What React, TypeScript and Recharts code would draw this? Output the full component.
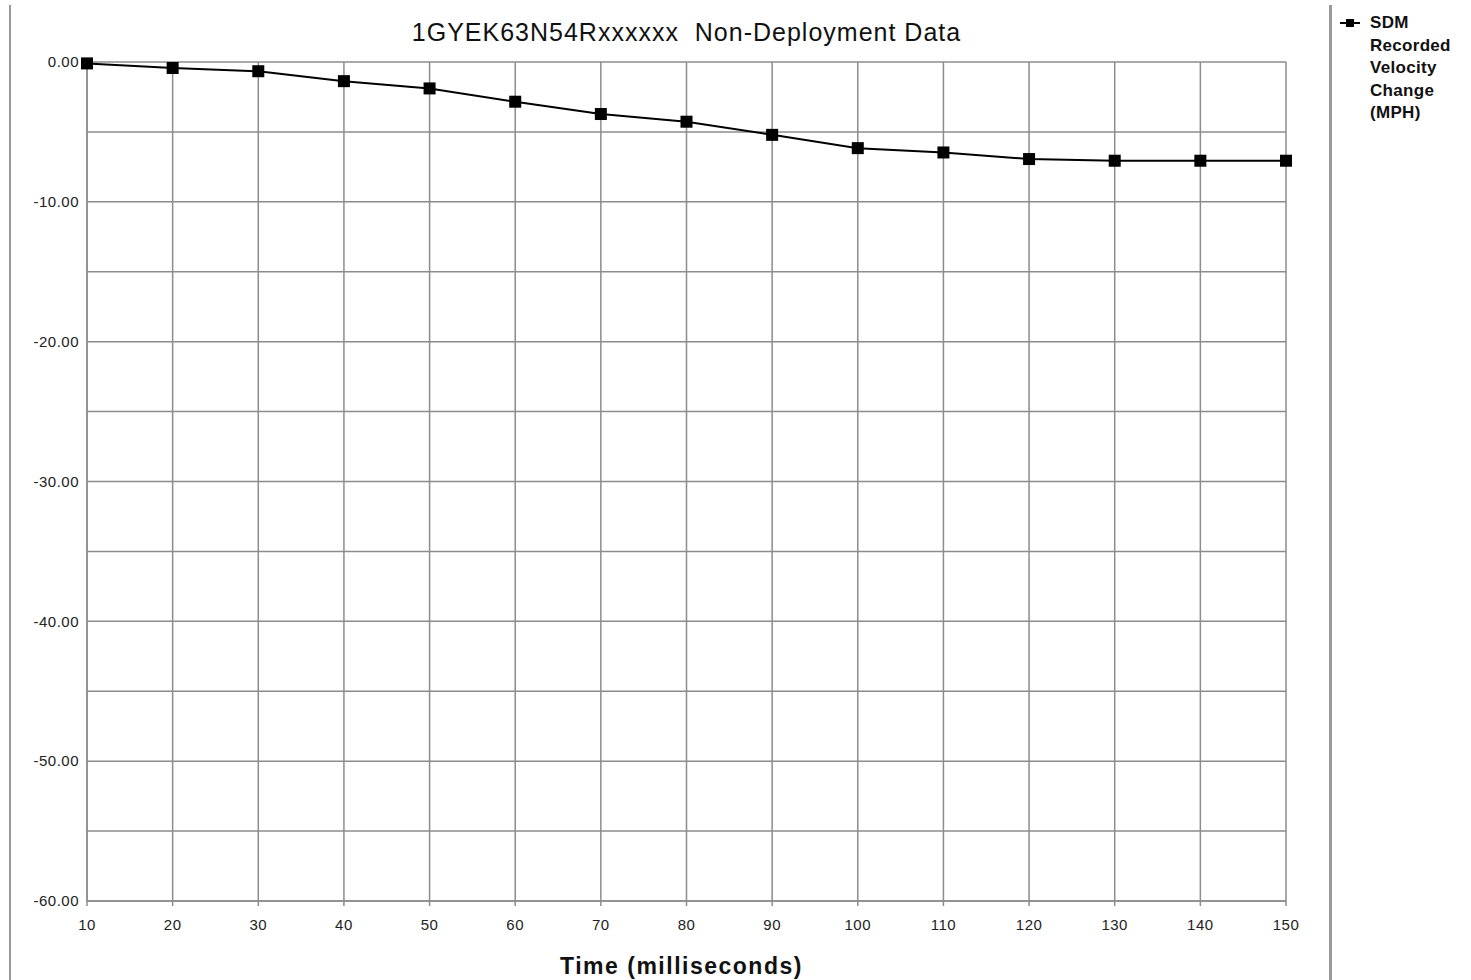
import { LineChart, Line, XAxis, YAxis, CartesianGrid } from 'recharts';

const times = [10, 20, 30, 40, 50, 60, 70, 80, 90, 100, 110, 120, 130, 140, 150];
const velocity = [-0.1, -0.43, -0.66, -1.37, -1.89, -2.84, -3.72, -4.27, -5.21, -6.16, -6.47, -6.94, -7.06, -7.06, -7.06];
const xTicks = [10, 20, 30, 40, 50, 60, 70, 80, 90, 100, 110, 120, 130, 140, 150];
const yTicks = [-60, -55, -50, -45, -40, -35, -30, -25, -20, -15, -10, -5, 0];
const legendLines = ['SDM', 'Recorded', 'Velocity', 'Change', '(MPH)'];

const data = times.map((t, i) => ({ t, v: velocity[i] }));

const font = '"Liberation Sans", Arial, sans-serif';
const grid = '#8c8c8c';

function Marker(props: any) {
  const { cx, cy, index } = props;
  return <rect key={index} x={cx - 6} y={cy - 6} width={12} height={12} fill="#000" />;
}

function LegendBox() {
  return (
    <div
      style={{
        position: 'absolute',
        left: 1340,
        top: 12,
        fontFamily: font,
        fontWeight: 'bold',
        fontSize: 17,
        letterSpacing: 0.3,
        lineHeight: '22.5px',
        color: '#111',
        display: 'flex',
      }}
    >
      <svg width={30} height={22} style={{ flex: 'none' }}>
        <line x1={0} y1={11} x2={20} y2={11} stroke="#000" strokeWidth={2} />
        <rect x={6} y={7} width={8} height={8} fill="#000" />
      </svg>
      <div>
        {legendLines.map((l) => (
          <div key={l}>{l}</div>
        ))}
      </div>
    </div>
  );
}

export default function App() {
  return (
    <div style={{ position: 'absolute', left: 0, top: 0, width: 1471, height: 980, background: '#fff' }}>
      <div style={{ position: 'absolute', left: 9, top: 5, width: 2, height: 975, background: '#999' }} />
      <div style={{ position: 'absolute', left: 1329, top: 5, width: 3, height: 975, background: '#999' }} />
      <div
        style={{
          position: 'absolute',
          left: 87,
          width: 1199,
          top: 18,
          textAlign: 'center',
          fontFamily: font,
          fontSize: 25,
          letterSpacing: 1,
          color: '#111',
          whiteSpace: 'pre',
        }}
      >
        {'1GYEK63N54Rxxxxxx  Non-Deployment Data'}
      </div>
      <LegendBox />
      <LineChart width={1471} height={980} data={data} margin={{ top: 62, right: 185, bottom: 0, left: 7 }}>
        <CartesianGrid stroke={grid} strokeWidth={1.5} />
        <XAxis
          dataKey="t"
          type="number"
          domain={[10, 150]}
          ticks={xTicks}
          height={79}
          stroke={grid}
          strokeWidth={1.5}
          tickSize={5}
          tickMargin={13}
          tick={{ fill: '#222', fontFamily: font, fontSize: 15, letterSpacing: 0.5 }}
          label={{
            value: 'Time (milliseconds)',
            position: 'insideBottom',
            offset: 6,
            dx: -5,
            style: { fill: '#111', fontFamily: font, fontSize: 23, fontWeight: 'bold', letterSpacing: 1.5 },
          }}
        />
        <YAxis
          type="number"
          domain={[-60, 0]}
          ticks={yTicks}
          width={80}
          stroke={grid}
          strokeWidth={1.5}
          tickLine={false}
          tickSize={6}
          tickMargin={2}
          tickFormatter={(v: number) => (v % 10 === 0 ? v.toFixed(2) : '')}
          tick={{ fill: '#222', fontFamily: font, fontSize: 15, letterSpacing: 0.5 }}
        />
        <Line
          dataKey="v"
          stroke="#000"
          strokeWidth={2}
          dot={Marker}
          activeDot={false}
          isAnimationActive={false}
        />
      </LineChart>
    </div>
  );
}
